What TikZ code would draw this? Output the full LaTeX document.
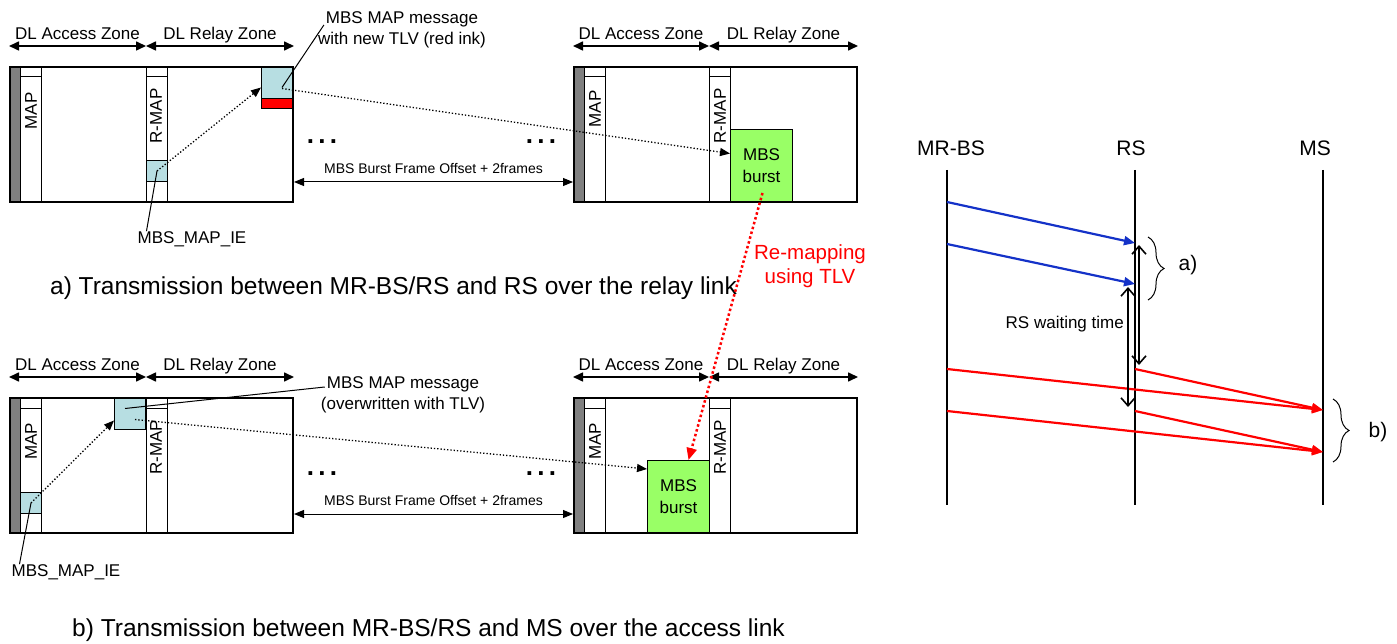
\documentclass[tikz,border=0pt]{standalone}
\usepackage{fontspec}
\setmainfont{Liberation Sans}
\usetikzlibrary{arrows.meta, positioning, calc, decorations.pathreplacing}
\definecolor{stripGray} {RGB}{128,128,128}
\definecolor{cellBlue}  {RGB}{183,222,226}
\definecolor{burstGreen}{RGB}{153,255,102}
\definecolor{inkRed}    {RGB}{255,0,0}
\definecolor{msgBlue}   {RGB}{20,50,200}
\tikzset{
  frm/.style   = {rectangle, draw, line width=2pt, anchor=north west, inner sep=0pt,
                  minimum width=283pt, minimum height=135pt},
  strip/.style = {rectangle, draw, line width=1pt, fill=stripGray, anchor=north west,
                  inner sep=0pt, minimum width=11pt, minimum height=135pt},
  col/.style   = {rectangle, draw, line width=1pt, anchor=north west, inner sep=0pt,
                  minimum width=21pt, minimum height=135pt},
  cell/.style  = {rectangle, draw, line width=1pt, fill=cellBlue, anchor=north west,
                  inner sep=0pt},
  tlv/.style   = {rectangle, draw, line width=1pt, fill=inkRed, anchor=north west,
                  inner sep=0pt, minimum width=31pt, minimum height=10pt},
  burst/.style = {rectangle, draw, line width=1pt, fill=burstGreen, anchor=north west,
                  inner sep=0pt, minimum width=62pt, align=center,
                  font=\fontsize{17}{22}\selectfont},
  txt/.style   = {inner sep=0pt, align=center, font=\fontsize{17}{21}\selectfont},
  vtxt/.style  = {txt, rotate=90},
  smalltxt/.style = {inner sep=0pt, font=\fontsize{14}{16}\selectfont},
  dots/.style  = {inner sep=0pt, font=\fontsize{26}{26}\selectfont\bfseries},
  captxt/.style = {inner sep=0pt, font=\fontsize{24.5}{27}\selectfont},
  hd/.style    = {inner sep=0pt, font=\fontsize{21}{24}\selectfont},
  zlbl/.style  = {txt, text depth=0pt, above=6pt},
  zone/.style  = {{Triangle[length=10pt,width=9pt]}-{Triangle[length=10pt,width=9pt]},
                  line width=1.6pt},
  spanarr/.style = {{Triangle[length=10pt,width=8pt]}-{Triangle[length=10pt,width=8pt]},
                  line width=1pt},
  ptr/.style   = {-{Triangle[length=10pt,width=8pt]}, line width=1.3pt, dotted},
  remap/.style = {-{Triangle[length=12pt,width=10pt]}, line width=2.5pt, color=inkRed,
                  dash pattern=on 2.5pt off 2.5pt},
  lead/.style  = {line width=1pt},
  life/.style  = {line width=1.5pt},
  bmsg/.style  = {-{Triangle[length=11pt,width=9pt]}, line width=2.2pt, color=msgBlue},
  rmsg/.style  = {-{Triangle[length=11pt,width=9pt]}, line width=2.2pt, color=inkRed},
  wait/.style  = {{Straight Barb[length=8pt,width=14pt]}-{Straight Barb[length=8pt,width=14pt]},
                  line width=1.6pt},
  brc/.style   = {decorate, decoration={brace, amplitude=16pt}, line width=1pt},
}

\begin{document}
\begin{tikzpicture}[x=1pt, y=-1pt]
\useasboundingbox (0,0) rectangle (1397,644);

% ---- a) relay link: first frame ---------------------------------------------
\node[strip] (stA)   at (9,66) {};
\node[col]   (mapA)  at (20,66) {};
\node[col]   (rmapA) at (146,66) {};
\draw[lead] ([yshift=-11pt]mapA.north west) -- ([yshift=-11pt]mapA.north east);
\draw[lead] ([yshift=-11pt]rmapA.north west) -- ([yshift=-11pt]rmapA.north east);
\node[vtxt] (mapTxtA)  at (31,111) {MAP};
\node[vtxt] (rmapTxtA) at (156,116) {R-MAP};
\node[cell, minimum width=21pt, minimum height=21pt] (ieA)  at (146,160) {};
\node[cell, minimum width=31pt, minimum height=32pt] (msgA) at (261,66) {};
\node[tlv] (tlvA) at (261,98) {};
\node[frm] (fA) at (9,66) {};

% ---- a) relay link: later frame ---------------------------------------------
\node[strip] (stB)   at (573,66) {};
\node[col]   (mapB)  at (584,66) {};
\node[col]   (rmapB) at (709,66) {};
\draw[lead] ([yshift=-11pt]mapB.north west) -- ([yshift=-11pt]mapB.north east);
\draw[lead] ([yshift=-11pt]rmapB.north west) -- ([yshift=-11pt]rmapB.north east);
\node[vtxt] (mapTxtB)  at (595,109) {MAP};
\node[vtxt] (rmapTxtB) at (720,116) {R-MAP};
\node[burst, minimum height=72pt] (burstB) at (730,129) {MBS\\burst};
\node[frm] (fB) at (573,66) {};

% ---- a) zones, offsets, labels ----------------------------------------------
\draw[zone] ([yshift=20pt]fA.north west) -- node[zlbl] (accA) {DL Access Zone} ([yshift=20pt]rmapA.north west);
\draw[zone] ([yshift=20pt]rmapA.north west) -- node[zlbl] (relA) {DL Relay Zone} ([yshift=20pt]fA.north east);
\draw[zone] ([yshift=20pt]fB.north west) -- node[zlbl] (accB) {DL Access Zone} ([yshift=20pt]rmapB.north west);
\draw[zone] ([yshift=20pt]rmapB.north west) -- node[zlbl] (relB) {DL Relay Zone} ([yshift=20pt]fB.north east);

\node[dots] (dotsA1) at (322,142) {.\,.\,.};
\node[dots] (dotsA2) at (541,142) {.\,.\,.};
\draw[spanarr] ([yshift=-47.5pt]fA.east) -- node[smalltxt, above=8pt] (offA)
  {MBS Burst Frame Offset + 2frames} ([yshift=-47.5pt]fB.west);

\node[txt] (lblA)   at (402,30) {MBS MAP message\\with new TLV (red ink)};
\node[txt] (ieLblA) at (192,239) {MBS\_MAP\_IE};
\draw[lead] ([xshift=5pt,yshift=-5pt]msgA.center) -- ([xshift=6pt,yshift=5pt]lblA.west);
\draw[lead] (ieA.center) -- ([xshift=9pt]ieLblA.north west);
\draw[ptr] (ieA.center) -- ([yshift=-5pt]msgA.west);
\draw[ptr] ([xshift=5pt,yshift=-6pt]msgA.center) -- ([yshift=12pt]burstB.west);

\node[captxt] (capA) at (393.5,288) {a) Transmission between MR-BS/RS and RS over the relay link};

% ---- b) access link: first frame --------------------------------------------
\node[strip] (stC)   at (9,397) {};
\node[col]   (mapC)  at (20,397) {};
\node[col]   (rmapC) at (146,397) {};
\draw[lead] ([yshift=-11pt]mapC.north west) -- ([yshift=-11pt]mapC.north east);
\draw[lead] ([yshift=-11pt]rmapC.north west) -- ([yshift=-11pt]rmapC.north east);
\node[vtxt] (mapTxtC)  at (31,441.5) {MAP};
\node[vtxt] (rmapTxtC) at (156,447.5) {R-MAP};
\node[cell, minimum width=21pt, minimum height=21pt] (ieC)  at (20,492) {};
\node[cell, minimum width=31pt, minimum height=32pt] (msgC) at (114,397) {};
\node[frm] (fC) at (9,397) {};

% ---- b) access link: later frame --------------------------------------------
\node[strip] (stD)   at (573,397) {};
\node[col]   (mapD)  at (584,397) {};
\node[col]   (rmapD) at (709,397) {};
\draw[lead] ([yshift=-11pt]mapD.north west) -- ([yshift=-11pt]mapD.north east);
\draw[lead] ([yshift=-11pt]rmapD.north west) -- ([yshift=-11pt]rmapD.north east);
\node[vtxt] (mapTxtD)  at (595,441.5) {MAP};
\node[vtxt] (rmapTxtD) at (720,447.5) {R-MAP};
\node[burst, minimum height=73pt] (burstD) at (647,460) {MBS\\burst};
\node[frm] (fD) at (573,397) {};

% ---- b) zones, offsets, labels ----------------------------------------------
\draw[zone] ([yshift=20pt]fC.north west) -- node[zlbl] (accC) {DL Access Zone} ([yshift=20pt]rmapC.north west);
\draw[zone] ([yshift=20pt]rmapC.north west) -- node[zlbl] (relC) {DL Relay Zone} ([yshift=20pt]fC.north east);
\draw[zone] ([yshift=20pt]fD.north west) -- node[zlbl] (accD) {DL Access Zone} ([yshift=20pt]rmapD.north west);
\draw[zone] ([yshift=20pt]rmapD.north west) -- node[zlbl] (relD) {DL Relay Zone} ([yshift=20pt]fD.north east);

\node[dots] (dotsC1) at (322,474) {.\,.\,.};
\node[dots] (dotsC2) at (541,474) {.\,.\,.};
\draw[spanarr] ([yshift=-48.5pt]fC.east) -- node[smalltxt, above=8pt] (offC)
  {MBS Burst Frame Offset + 2frames} ([yshift=-48.5pt]fD.west);

\node[txt] (lblC)   at (403,395) {MBS MAP message\\(overwritten with TLV)};
\node[txt] (ieLblC) at (66,572) {MBS\_MAP\_IE};
\draw[lead] ([xshift=-5pt,yshift=5pt]msgC.center) -- ([xshift=4pt,yshift=8pt]lblC.west);
\draw[lead] (ieC.center) -- ([xshift=8pt]ieLblC.north west);
\draw[ptr] (ieC.center) -- ([yshift=-7pt]msgC.west);
\draw[ptr] ([xshift=5pt,yshift=-6pt]msgC.center) -- ([yshift=-9pt]burstD.north west);

\node[captxt] (capB) at (428.5,630) {b) Transmission between MR-BS/RS and MS over the access link};

% ---- Re-mapping between the two links ---------------------------------------
\draw[remap] ([xshift=1pt,yshift=9pt]burstB.south) -- ([xshift=10pt]burstD.north);
\node[txt, text=inkRed, font=\fontsize{20.5}{24}\selectfont] (remapLbl) at (810,266)
  {Re-mapping\\using TLV};

% ---- Message sequence -------------------------------------------------------
\node[hd] (mrbs) at (951,148) {MR-BS};
\node[hd] (rs)   at (1131,148) {RS};
\node[hd] (ms)   at (1315,148) {MS};
\coordinate (lnA) at (947,170);  \coordinate (lnAe) at (947,505);
\coordinate (lnB) at (1135,170); \coordinate (lnBe) at (1135,505);
\coordinate (lnC) at (1323,170); \coordinate (lnCe) at (1323,505);
\draw[life] (lnA) -- (lnAe);
\draw[life] (lnB) -- (lnBe);
\draw[life] (lnC) -- (lnCe);

\draw[bmsg] (lnA |- 0,202) -- (lnB |- 0,243);
\draw[bmsg] (lnA |- 0,244) -- (lnB |- 0,284);
\draw[rmsg] (lnA |- 0,369) -- (lnC |- 0,410);
\draw[rmsg] (lnA |- 0,411) -- (lnC |- 0,452);
\draw[rmsg] (lnB |- 0,369) -- (lnC |- 0,410);
\draw[rmsg] (lnB |- 0,411) -- (lnC |- 0,452);

\coordinate (w1) at (1139,245); \coordinate (w1e) at (1139,365);
\coordinate (w2) at (1128,287); \coordinate (w2e) at (1128,407);
\draw[wait] (w1) -- (w1e);
\draw[wait] (w2) -- (w2e);
\node[txt, anchor=east] (waitLbl) at (1124,324) {RS waiting time};

\draw[brc] (1148,237) -- (1148,300);
\draw[brc] (1333,399) -- (1333,462);
\node[hd] (braceA) at (1188,265) {a)};
\node[hd] (braceB) at (1378,432) {b)};

\end{tikzpicture}
\end{document}
